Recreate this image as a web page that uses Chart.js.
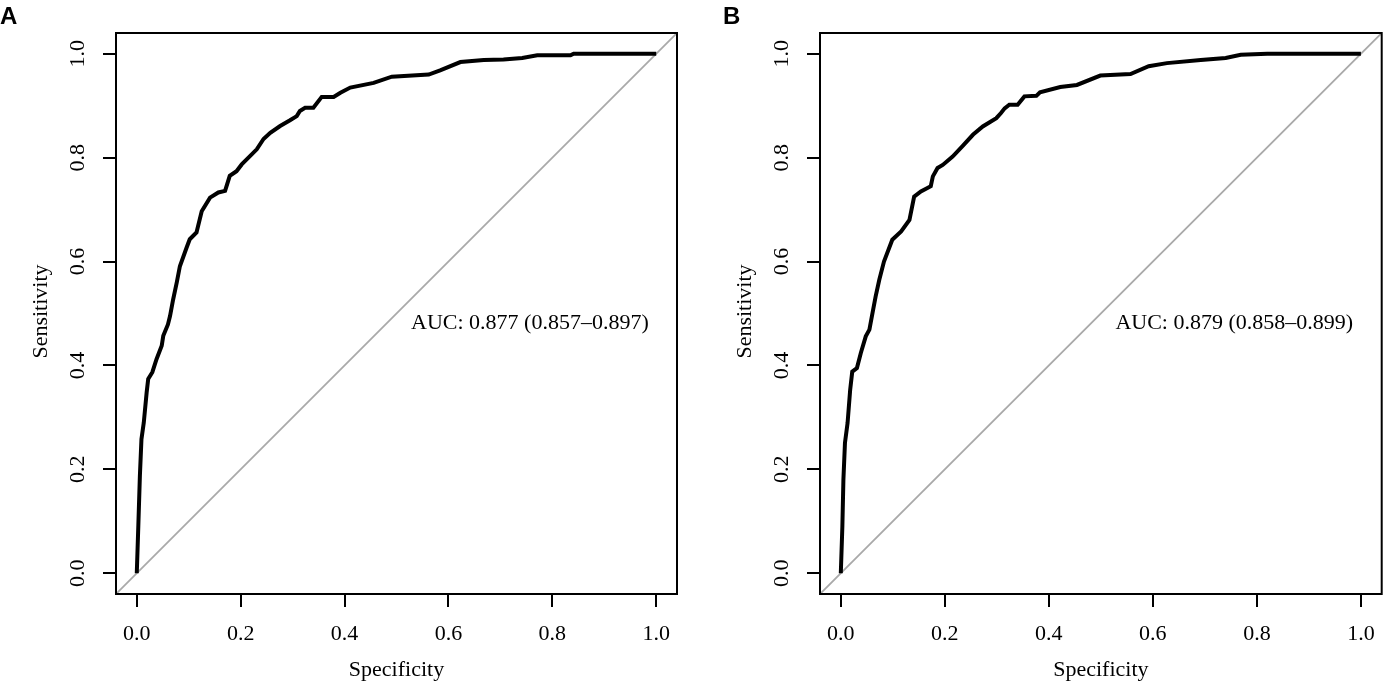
<!DOCTYPE html>
<html>
<head>
<meta charset="utf-8">
<script src="https://cdn.jsdelivr.net/npm/chart.js@4.4.0/dist/chart.umd.min.js"></script>
<style>
  body { margin: 0; background: #fff; }
  .panel { position: absolute; top: 0; height: 684px; }
</style>
</head>
<body>
<div class="panel" style="left:0;width:700px"><canvas id="rocA" width="700" height="684"></canvas></div>
<div class="panel" style="left:700px;width:684px"><canvas id="rocB" width="684" height="684"></canvas></div>
<script>
// ROC curve A
const specA = [0, 0.003, 0.006, 0.009, 0.0135, 0.019, 0.022, 0.030, 0.038, 0.048, 0.051, 0.060, 0.064,
  0.070, 0.077, 0.083, 0.096, 0.102, 0.115, 0.125, 0.141, 0.157, 0.170, 0.179, 0.192, 0.202, 0.215,
  0.231, 0.244, 0.257, 0.276, 0.295, 0.308, 0.314, 0.324, 0.340, 0.356, 0.379, 0.392, 0.411, 0.456,
  0.491, 0.562, 0.584, 0.623, 0.668, 0.706, 0.742, 0.771, 0.835, 0.841, 1.0];
const sensA = [0, 0.092, 0.188, 0.258, 0.290, 0.348, 0.374, 0.387, 0.412, 0.438, 0.457, 0.479, 0.495,
  0.527, 0.560, 0.591, 0.627, 0.643, 0.656, 0.697, 0.723, 0.733, 0.736, 0.765, 0.774, 0.787, 0.800,
  0.816, 0.836, 0.848, 0.861, 0.872, 0.880, 0.890, 0.896, 0.896, 0.917, 0.917, 0.925, 0.935, 0.944,
  0.956, 0.960, 0.968, 0.984, 0.988, 0.989, 0.992, 0.997, 0.997, 1.0, 1.0];

// ROC curve B
const specB = [0, 0.003, 0.005, 0.008, 0.013, 0.018, 0.022, 0.031, 0.0385, 0.048, 0.055, 0.061, 0.067,
  0.074, 0.083, 0.099, 0.116, 0.132, 0.141, 0.154, 0.173, 0.177, 0.186, 0.196, 0.215, 0.234, 0.254,
  0.273, 0.299, 0.308, 0.315, 0.324, 0.340, 0.353, 0.376, 0.383, 0.422, 0.454, 0.499, 0.557, 0.592,
  0.627, 0.692, 0.740, 0.769, 0.820, 1.0];
const sensB = [0, 0.090, 0.180, 0.251, 0.289, 0.353, 0.388, 0.395, 0.424, 0.456, 0.469, 0.501, 0.533,
  0.565, 0.600, 0.642, 0.658, 0.680, 0.725, 0.735, 0.745, 0.764, 0.780, 0.786, 0.802, 0.822, 0.844,
  0.860, 0.876, 0.886, 0.895, 0.902, 0.902, 0.918, 0.919, 0.926, 0.936, 0.940, 0.958, 0.961, 0.976,
  0.982, 0.988, 0.992, 0.998, 1.0, 1.0];

const tickValues = [0, 0.2, 0.4, 0.6, 0.8, 1.0];
const tickLabels = ["0.0", "0.2", "0.4", "0.6", "0.8", "1.0"];
const axisRange = [-0.04, 1.04];   // R's default 4% extension
const panelLetters = ["A", "B"];
const aucTexts = ["AUC: 0.877 (0.857\u20130.897)", "AUC: 0.879 (0.858\u20130.899)"];
const aucAnchor = [0.528, 0.482];  // left edge / middle of the AUC text, in data units
const xTitle = "Specificity";
const yTitle = "Sensitivity";

const serif = "'Liberation Serif', 'Times New Roman', serif";

function toPoints(xs, ys) {
  return xs.map((x, i) => ({ x: x, y: ys[i] }));
}

// box, tick labels, titles, AUC text and panel letter (R base-graphics look)
const framePlugin = {
  id: "frame",
  afterDraw(chart, args, opts) {
    const ctx = chart.ctx;
    const a = chart.chartArea;
    const xs = chart.scales.x;
    const ys = chart.scales.y;
    ctx.save();
    ctx.strokeStyle = "#000";
    ctx.lineWidth = 2;
    ctx.strokeRect(a.left, a.top, a.right - a.left, a.bottom - a.top);

    ctx.fillStyle = "#000";
    ctx.font = "22px " + serif;
    ctx.textAlign = "center";
    ctx.textBaseline = "middle";
    tickValues.forEach((v, i) => {
      ctx.fillText(tickLabels[i], xs.getPixelForValue(v), a.bottom + 40.5);
      ctx.save();
      ctx.translate(a.left - 37.5, ys.getPixelForValue(v));
      ctx.rotate(-Math.PI / 2);
      ctx.fillText(tickLabels[i], 0, 0);
      ctx.restore();
    });
    ctx.fillText(xTitle, (a.left + a.right) / 2, a.bottom + 76);
    ctx.save();
    ctx.translate(a.left - 75, (a.top + a.bottom) / 2 - 2);
    ctx.rotate(-Math.PI / 2);
    ctx.fillText(yTitle, 0, 0);
    ctx.restore();

    ctx.textAlign = "left";
    ctx.fillText(opts.auc, xs.getPixelForValue(aucAnchor[0]), ys.getPixelForValue(aucAnchor[1]));

    ctx.font = "bold 24px 'Liberation Sans', Arial, sans-serif";
    ctx.textBaseline = "alphabetic";
    ctx.fillText(opts.letter, opts.letterX, 24);
    ctx.restore();
  }
};

function makeRoc(id, spec, sens, idx, yWidth, rightPad, letterX) {
  const axisCommon = {
    type: "linear",
    min: axisRange[0],
    max: axisRange[1],
    afterBuildTicks: s => { s.ticks = tickValues.map(v => ({ value: v })); },
    grid: { drawOnChartArea: false, color: "#000", lineWidth: 2, tickLength: 13 },
    border: { display: false },
    ticks: { display: false }
  };
  return new Chart(document.getElementById(id), {
    type: "line",
    data: {
      datasets: [
        {
          data: toPoints(spec, sens),
          borderColor: "#000",
          borderWidth: 4,
          pointRadius: 0,
          tension: 0,
          fill: false
        },
        {
          data: toPoints(axisRange, axisRange),
          borderColor: "#a9a9a9",
          borderWidth: 1.8,
          pointRadius: 0,
          fill: false
        }
      ]
    },
    options: {
      responsive: false,
      animation: false,
      events: [],
      layout: { padding: { top: 33, right: rightPad, left: 0, bottom: 0 } },
      plugins: {
        legend: { display: false },
        tooltip: { enabled: false },
        frame: { auc: aucTexts[idx], letter: panelLetters[idx], letterX: letterX }
      },
      scales: {
        x: Object.assign({}, axisCommon, { afterFit: s => { s.height = 90; } }),
        y: Object.assign({}, axisCommon, { afterFit: s => { s.width = yWidth; } })
      }
    },
    plugins: [framePlugin]
  });
}

makeRoc("rocA", specA, sensA, 0, 116, 23, 0);
makeRoc("rocB", specB, sensB, 1, 120, 2.3, 23);
</script>
</body>
</html>
